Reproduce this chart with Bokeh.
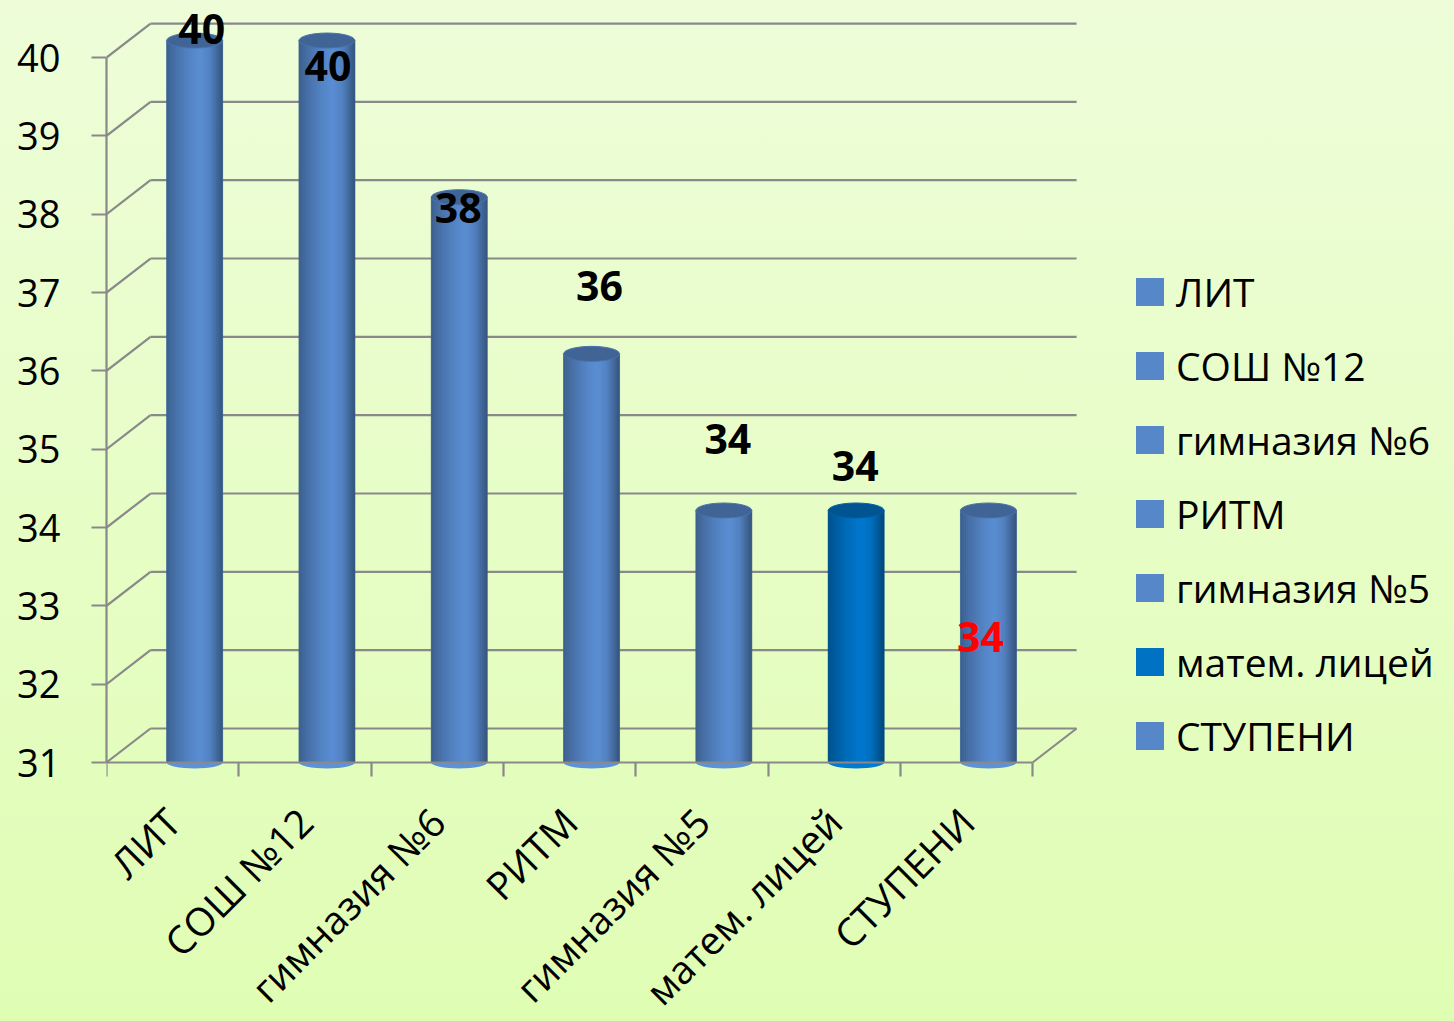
import math
from bokeh.plotting import figure
from bokeh.models import (ColumnDataSource, LinearAxis, FixedTicker, Range1d,
                          Legend, LegendItem, GlobalInlineStyleSheet)
from bokeh.core.properties import value
from bokeh.embed import file_html
from bokeh.resources import INLINE

# ---------------- data ----------------
schools = ["ЛИТ", "СОШ №12", "гимназия №6", "РИТМ", "гимназия №5", "матем. лицей", "СТУПЕНИ"]
scores = [40, 40, 38, 36, 34, 34, 34]
y_ticks = [31, 32, 33, 34, 35, 36, 37, 38, 39, 40]

# ---------------- styles / placement ----------------
bar_colors = ["#5687c9", "#5687c9", "#5687c9", "#5687c9", "#5687c9", "#0072c4", "#5687c9"]
label_colors = ["#000000"] * 6 + ["#ff0000"]
label_dx_px = [7, 1, -1, 8, 4, -1, -8]
label_dy_px = [-12, 25, 11, -68, -72, -45, 126]   # screen px, positive = down

FONT = "Open Sans"
GRID = "#898989"
W, H = 1454, 1021
LEFT = 106          # y axis position (px from left)
FLOOR_PX = 762      # screen y of the floor (score 31)
PX_X = 132.3        # pixels per category
PX_Y = 78.33        # pixels per score unit
DX = 44 / PX_X      # depth offset (x) in data units
DY = 34 / PX_Y      # depth offset (y) in data units
BAR_W = 56 / PX_X
N_STRIPS = 28

n = len(schools)
floor = y_ticks[0]
x_start = 0.5
x_end = x_start + (W - LEFT) / PX_X
y_start = floor - (H - FLOOR_PX) / PX_Y
y_end = floor + FLOOR_PX / PX_Y

p = figure(width=W, height=H, x_range=Range1d(x_start, x_end), y_range=Range1d(y_start, y_end),
           output_backend="svg", toolbar_location=None,
           x_axis_location=None, y_axis_location=None,
           min_border_left=LEFT, min_border_bottom=0, min_border_top=0, min_border_right=0,
           border_fill_color=None, background_fill_color=None, outline_line_color=None)
p.grid.visible = False
p.stylesheets = [GlobalInlineStyleSheet(css=
    "html{height:100%;overflow:hidden;background:linear-gradient(180deg,#eefdd9 0%,#e0fdb4 100%);}"
    "body{overflow:hidden;background:transparent;}")]

# ---------------- 3D frame (back wall, side wall, floor) ----------------
back_x0 = x_start + DX
back_x1 = x_start + n + DX
p.segment(x0=[back_x0] * len(y_ticks), y0=[t + DY for t in y_ticks],
          x1=[back_x1] * len(y_ticks), y1=[t + DY for t in y_ticks],
          line_color=GRID, line_width=2.2)
p.segment(x0=[x_start] * len(y_ticks), y0=y_ticks,
          x1=[back_x0] * len(y_ticks), y1=[t + DY for t in y_ticks],
          line_color=GRID, line_width=2.2)
p.segment(x0=[x_start + n], y0=[floor], x1=[back_x1], y1=[floor + DY],
          line_color=GRID, line_width=2.2)

# ---------------- cylinders ----------------
centers = [i + 1 + DX / 2 for i in range(n)]
tops = [v + DY / 2 for v in scores]

def hex2rgb(h):
    h = h.lstrip("#")
    return [int(h[i:i + 2], 16) for i in (0, 2, 4)]

def shade(h, f):
    r, g, b = hex2rgb(h)
    return "#%02x%02x%02x" % tuple(max(0, min(255, int(round(c * f)))) for c in (r, g, b))

prof_t = [0.0, 0.12, 0.3, 0.5, 0.62, 0.78, 0.9, 1.0]
prof_f = [0.70, 0.80, 0.92, 1.02, 1.05, 0.96, 0.78, 0.62]

def profile(t):
    for j in range(len(prof_t) - 1):
        if prof_t[j] <= t <= prof_t[j + 1]:
            a = (t - prof_t[j]) / (prof_t[j + 1] - prof_t[j])
            return prof_f[j] + a * (prof_f[j + 1] - prof_f[j])
    return prof_f[-1]

# bottom rim of each cylinder
p.ellipse(x=centers, y=[floor] * n, width=BAR_W, height=12, height_units="screen",
          fill_color=[shade(c, 1.08) for c in bar_colors], line_color=None)

base_src = ColumnDataSource(dict(x=centers, top=tops, color=bar_colors, name=schools))
base_r = p.vbar(x="x", width=BAR_W, top="top", bottom=floor, source=base_src,
                fill_color="color", line_color=None)

sw = BAR_W / N_STRIPS
for k in range(N_STRIPS):
    t = (k + 0.5) / N_STRIPS
    cols = [shade(c, profile(t)) for c in bar_colors]
    xs = [c - BAR_W / 2 + (k + 0.5) * sw for c in centers]
    p.vbar(x=xs, width=sw, top=tops, bottom=floor, fill_color=cols,
           line_color=cols, line_width=0.6)

top_cols = [shade(c, 0.74) for c in bar_colors]
p.ellipse(x=centers, y=tops, width=BAR_W, height=15, height_units="screen",
          fill_color=top_cols, line_color=[shade(c, 0.85) for c in bar_colors], line_width=1)

# ---------------- data labels ----------------
lab_src = ColumnDataSource(dict(x=centers, y=tops, txt=[str(v) for v in scores],
                                col=label_colors, dx=label_dx_px, dy=label_dy_px))
p.text(x="x", y="y", text="txt", source=lab_src, x_offset="dx", y_offset="dy",
       text_color="col", text_font=value(FONT), text_font_style="bold",
       text_font_size="41px", text_align="center", text_baseline="middle")

# ---------------- axes ----------------
yaxis = LinearAxis(bounds=(y_ticks[0], y_ticks[-1]), ticker=FixedTicker(ticks=y_ticks),
                   axis_line_color=GRID, axis_line_width=2.2,
                   major_tick_line_color=GRID, major_tick_line_width=2.2,
                   major_tick_out=15, major_tick_in=0, minor_tick_out=0, minor_tick_in=0,
                   major_label_text_font=FONT, major_label_text_font_size="38px",
                   major_label_text_color="#000000", major_label_standoff=31)
p.add_layout(yaxis, "left")

cat_pos = [i + 1 for i in range(n)]
bounds_x = [x_start + i for i in range(n + 1)]
xaxis = LinearAxis(bounds=(x_start, x_start + n), fixed_location=floor,
                   ticker=FixedTicker(ticks=cat_pos, minor_ticks=bounds_x),
                   axis_line_color=GRID, axis_line_width=2.2,
                   major_tick_out=0, major_tick_in=0,
                   minor_tick_line_color=GRID, minor_tick_line_width=2.2,
                   minor_tick_out=14, minor_tick_in=0,
                   major_label_overrides={c: s for c, s in zip(cat_pos, schools)},
                   major_label_orientation=math.pi / 4,
                   major_label_text_font=FONT, major_label_text_font_size="39px",
                   major_label_text_color="#000000", major_label_standoff=38)
p.add_layout(xaxis, "below")

# ---------------- legend ----------------
items = [LegendItem(label=s, renderers=[base_r], index=i) for i, s in enumerate(schools)]
legend = Legend(items=items, location=(1026, 259), orientation="vertical",
                glyph_width=35, glyph_height=35, label_standoff=9, spacing=21,
                label_text_font=FONT, label_text_font_size="39px", label_text_color="#000000",
                padding=0, margin=0, border_line_color=None, background_fill_alpha=0)
p.add_layout(legend)

open("out.html", "w").write(file_html(p, INLINE))
